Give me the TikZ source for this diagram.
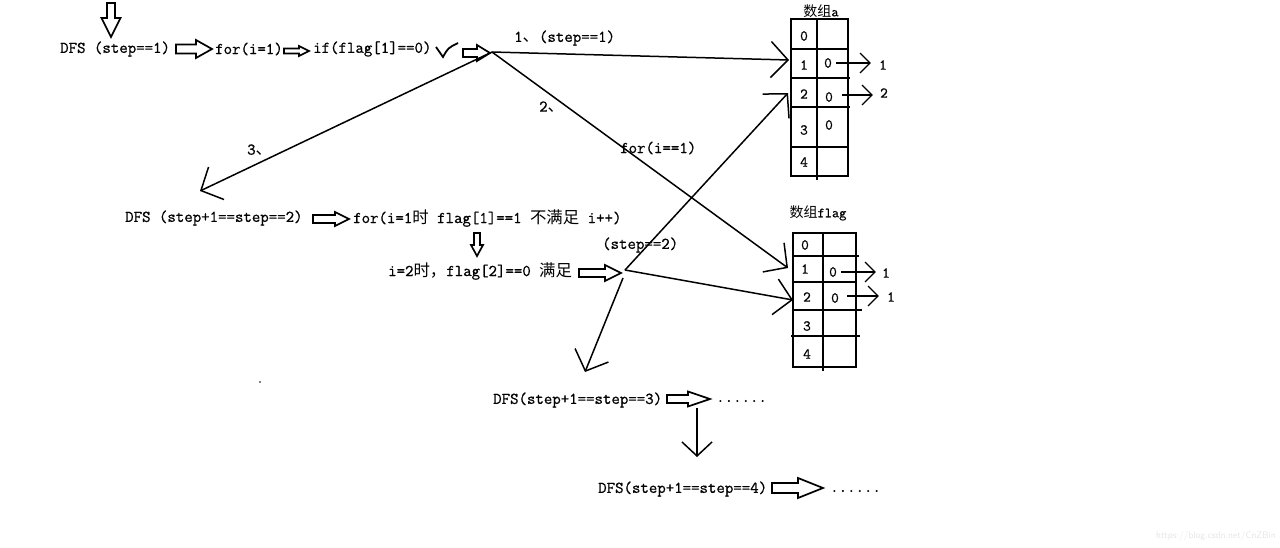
\documentclass[tikz,border=0pt]{standalone}
\usepackage{fontspec}
\newfontfamily\cjk{Noto Sans CJK SC}
\newfontfamily\mono{Latin Modern Mono}[FakeBold=0.9]
\usetikzlibrary{arrows.meta}
\newcommand\hollowR[6]{\draw[blk] (#1,#3-#4) -- (#2-#6,#3-#4) -- (#2-#6,#3-#5) -- (#2,#3) -- (#2-#6,#3+#5) -- (#2-#6,#3+#4) -- (#1,#3+#4) -- cycle;}
\newcommand\hollowD[6]{\draw[blk] (#1-#4,#2) -- (#1-#4,#3-#6) -- (#1-#5,#3-#6) -- (#1,#3) -- (#1+#5,#3-#6) -- (#1+#4,#3-#6) -- (#1+#4,#2) -- cycle;}
\begin{document}
\begin{tikzpicture}[x=1pt,y=-1pt,
  txt/.style={font=\fontsize{16.4}{18}\selectfont\mono, inner sep=0pt, anchor=west},
  cell/.style={font=\fontsize{15}{17}\selectfont\mono, inner sep=0pt},
  ttl/.style={font=\fontsize{14}{16}\selectfont\mono, inner sep=0pt},
  ln/.style={line width=1.5pt},
  bar/.style={ln, -{Straight Barb[length=17pt,width=36pt]}},
  mbar/.style={ln, -{Straight Barb[length=14pt,width=30pt]}},
  sbar/.style={line width=1.3pt, -{Straight Barb[length=10pt,width=20pt]}},
  blk/.style={line width=1.7pt, line join=miter},
  grid/.style={line width=1.7pt},
]
\useasboundingbox (0,0) rectangle (1280,547);

% ---- row 1
\hollowD{111}{3}{37}{4}{9.5}{19}
\node[txt] (t1) at (60,49) {DFS~(step==1)};
\hollowR{176}{212}{49}{4.5}{9}{16}
\node[txt] (t2) at (215,49) {for(i=1)};
\begin{scope}[line width=2.4pt]
\hollowR{284}{309}{51}{2.5}{5}{10}
\end{scope}
\node[txt] (t3) at (313,49) {if(flag[1]==0)};
\draw[line width=1.8pt] (436,47) -- (443,57) .. controls (448,48) .. (458,43);
\hollowR{463}{490}{53}{4}{8}{13}
\coordinate (p1) at (492,52);

% ---- labels on branch lines
\node[txt] (l1) at (514,38) {1{\cjk 、}(step==1)};
\node[txt] (l2) at (539,107) {2{\cjk 、}};
\node[txt] (l3) at (620,148) {for(i==1)};
\node[txt] (l4) at (247,150) {3{\cjk 、}};
\node[txt] (l5) at (602,245) {(step==2)};

% ---- row 2
\node[txt] (t4) at (125,218) {DFS~(step+1==step==2)};
\hollowR{313}{349}{219}{4}{7}{14}
\node[txt] (t5) at (353,218) {for(i=1{\cjk 时} flag[1]==1 {\cjk 不满足} i++)};
\hollowD{477}{233}{256}{3}{6}{11}
\node[txt] (t6) at (388,271) {i=2{\cjk 时，}flag[2]==0 {\cjk 满足}};
\hollowR{579}{621}{273}{4}{8}{16}
\coordinate (p2) at (625,270);

% ---- row 3 / 4
\node[txt] (t7) at (493,400) {DFS(step+1==step==3)};
\hollowR{667}{710}{399}{4}{7.5}{22}
\node[txt] (d1) at (716,401) {......};
\node[txt] (t8) at (598,489) {DFS(step+1==step==4)};
\hollowR{772}{823}{488}{5}{10}{25}
\node[txt] (d2) at (830,491) {......};
\coordinate (v1) at (697,408);
\coordinate (v2) at (697,457);
\draw[mbar] (v1) -- (v2);

% ---- table a
\node[ttl] (ta) at (821,11) {{\cjk 数组}a};
\draw[grid] (791,19) rectangle (848,176);
\draw[grid] (817,19) -- (817,180);
\draw[grid] (791,49) -- (848,49);
\draw[grid] (791,78) -- (850,78);
\draw[grid] (791,107) -- (850,107);
\draw[grid] (791,147) -- (848,147);
\node[cell] (a0) at (804,36) {0};
\node[cell] (a1) at (804,65) {1};
\node[cell] (a2) at (804,94) {2};
\node[cell] (a3) at (804,130) {3};
\node[cell] (a4) at (804,162) {4};
\node[cell] (av1) at (828,63) {0};
\node[cell] (av2) at (829,97) {0};
\node[cell] (av3) at (829,125) {0};
\node[cell] (ar1) at (883,65) {1};
\node[cell] (ar2) at (884,93) {2};
\draw[sbar] ([xshift=4pt]av1.east) -- ([xshift=-8pt]ar1.west |- av1.east);
\draw[sbar] ([xshift=9pt,yshift=2pt]av2.east) -- ([xshift=-7pt]ar2.west |- 0,95);
\coordinate (ain1) at (789,60);
\coordinate (ain2) at (788,93);

% ---- table flag
\node[ttl] (tf) at (818,213) {{\cjk 数组}flag};
\draw[grid] (793,233) rectangle (856,367);
\draw[grid] (823,233) -- (823,371);
\draw[grid] (793,256) -- (859,256);
\draw[grid] (793,282) -- (856,282);
\draw[grid] (793,310) -- (862,310);
\draw[grid] (791,336) -- (860,336);
\node[cell] (f0) at (805,245) {0};
\node[cell] (f1) at (805,269) {1};
\node[cell] (f2) at (807,297) {2};
\node[cell] (f3) at (807,326) {3};
\node[cell] (f4) at (807,354) {4};
\node[cell] (fv1) at (833,272) {0};
\node[cell] (fv2) at (835,298) {0};
\node[cell] (fr1) at (886,273) {1};
\node[cell] (fr2) at (891,297) {1};
\draw[sbar] ([xshift=4pt]fv1.east) -- ([xshift=-6pt]fr1.west |- fv1.east);
\draw[sbar] ([xshift=8pt,yshift=2pt]fv2.east) -- ([xshift=-8pt]fr2.west |- 0,296);
\coordinate (fin1) at (788,268);
\coordinate (fin2) at (793,300);

% ---- branch connectors
\coordinate (p3) at (200,191);
\coordinate (p4) at (585,372);
\draw[bar] (p1) -- (ain1);
\draw[bar] (p1) -- (fin1);
\draw[bar] (p1) -- (p3);
\draw[bar] (p2) -- (ain2);
\draw[bar] (p2) -- (fin2);
\draw[bar] ([shift={(-2,8)}]p2) -- (p4);

% ---- misc
\fill (260,382) circle (0.9);
\node[font=\fontsize{9.5}{11}\selectfont\sffamily, text=black!10, anchor=east, inner sep=0pt] (wm) at (1276,536) {https://blog.csdn.net/CnZBin};
\end{tikzpicture}
\end{document}
